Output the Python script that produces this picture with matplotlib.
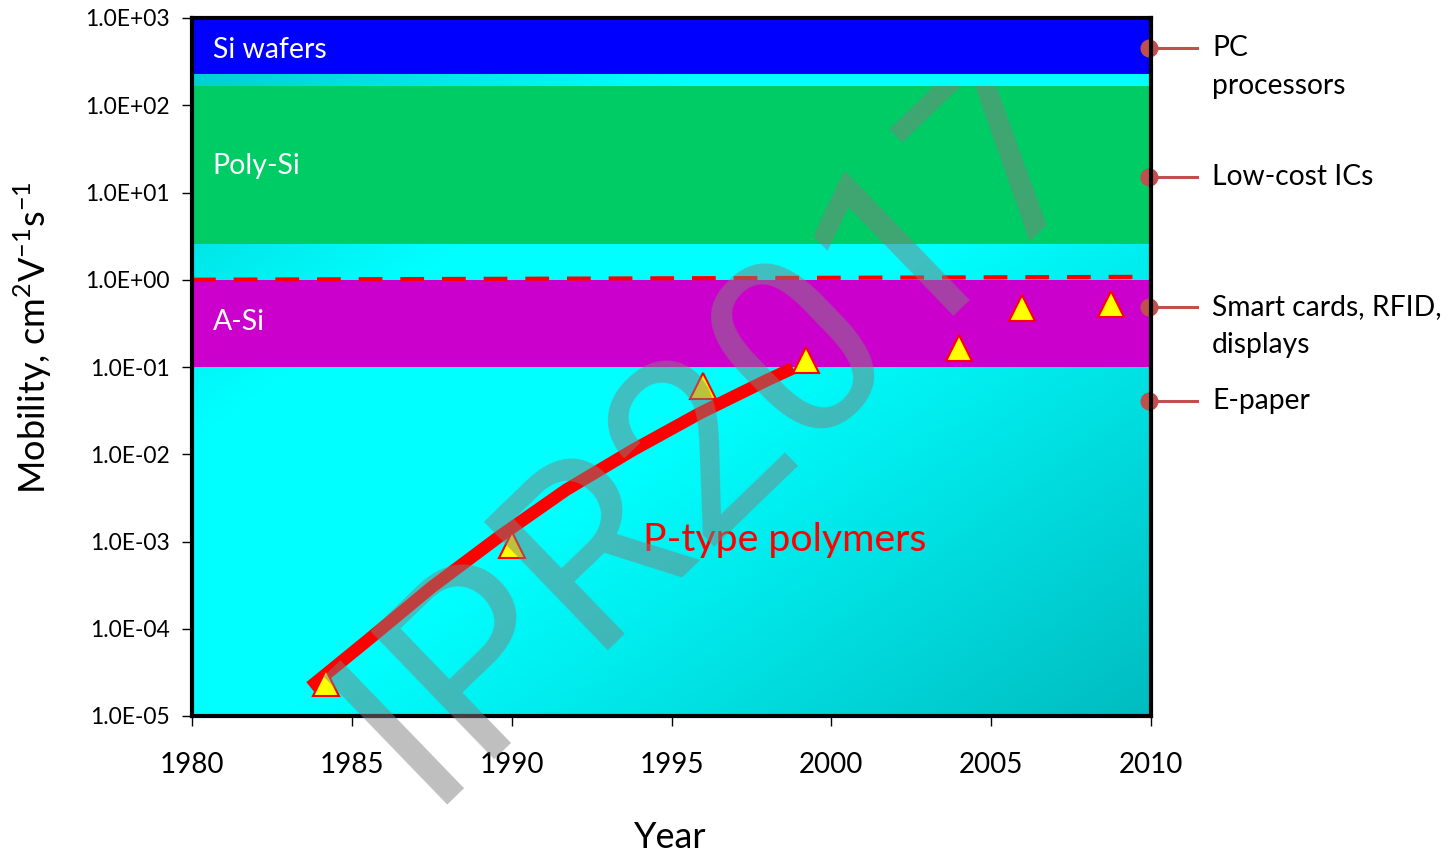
import numpy as np
import matplotlib
matplotlib.use('Agg')
import matplotlib.pyplot as plt
import matplotlib.transforms as mtransforms
from matplotlib.ticker import FixedLocator, FuncFormatter, NullLocator

plt.rcParams['font.family'] = ['Lato', 'DejaVu Sans']
plt.rcParams['mathtext.fontset'] = 'custom'
plt.rcParams['mathtext.rm'] = 'Lato'

# Data
poly_years = [1984.2, 1990.0, 1996.0, 1999.2, 2004.0, 2005.95, 2008.75]
poly_mobility = [2.4e-5, 9.1e-4, 0.061, 0.12, 0.165, 0.47, 0.53]

trend_years = [1983.7, 1985.5, 1987.5, 1989.6, 1991.7, 1993.8, 1995.9, 1998.0, 1998.8]
trend_mobility = [2.15e-5, 7.4e-5, 3.0e-4, 1.13e-3, 3.9e-3, 1.12e-2, 2.97e-2, 7.1e-2, 9.7e-2]

ref_years = [1980, 2010]
ref_mobility = [1.0, 1.08]

band_names = ['Si wafers', 'Poly-Si', 'A-Si']
band_low = [230, 2.6, 0.1]
band_high = [1000, 165, 1.0]
band_colors = ['#0000FF', '#00CC66', '#CC00CC']
band_label_y = [430, 20, 0.33]

app_labels = ['PC\nprocessors', 'Low-cost ICs', 'Smart cards, RFID,\ndisplays', 'E-paper']
app_mobility = [455, 15, 0.49, 0.041]

x_ticks = [1980, 1985, 1990, 1995, 2000, 2005, 2010]
y_ticks = [1e-5, 1e-4, 1e-3, 1e-2, 1e-1, 1e0, 1e1, 1e2, 1e3]

fig = plt.figure(figsize=(14.54, 8.57), dpi=100)
ax = fig.add_axes([192 / 1454, 1 - 716 / 857, 959 / 1454, 698 / 857])
ax.set_yscale('log')
ax.set_xlim(1980, 2010)
ax.set_ylim(1e-5, 1e3)

# cyan gradient background
u = np.linspace(0, 1, 300)
v = np.linspace(1, 0, 300)
U, V = np.meshgrid(u, v)
s = (U + (1 - V)) / 2
stops = [0.0, 0.3, 0.55, 1.0]
g_vals = [200, 255, 255, 188]
b_vals = [205, 255, 255, 192]
G = np.interp(s, stops, g_vals) / 255
B = np.interp(s, stops, b_vals) / 255
img = np.dstack([np.zeros_like(G), G, B])
ax.imshow(img, extent=[0, 1, 0, 1], transform=ax.transAxes, aspect='auto',
          zorder=0, interpolation='bilinear')

for name, lo, hi, c, ly in zip(band_names, band_low, band_high, band_colors, band_label_y):
    ax.axhspan(lo, hi, color=c, zorder=1, lw=0)
    ax.text(1980.65, ly, name, color='white', fontsize=20.5, va='center', ha='left', zorder=5)

ax.plot(ref_years, ref_mobility, color='red', lw=3, ls=(0, (5.7, 4.3)), zorder=3)
ax.plot(trend_years, trend_mobility, color='red', lw=9, solid_capstyle='butt',
        solid_joinstyle='round', zorder=3)
ax.plot(poly_years, poly_mobility, ls='none', marker='^', ms=19, mfc='yellow',
        mec='red', mew=1.5, zorder=4)
ax.text(1994.1, 1.05e-3, 'P-type polymers', color='red', fontsize=28.3, va='center', ha='left', zorder=5)

# applications on the right
trans = mtransforms.blended_transform_factory(ax.transAxes, ax.transData)
for lab, m in zip(app_labels, app_mobility):
    ax.plot([0.998, 1.048], [m, m], color='#C0504D', lw=2.2, transform=trans, clip_on=False, zorder=6)
    ax.plot([0.998], [m], color='#C0504D', marker='o', ms=12, transform=trans, clip_on=False, zorder=6)
    off = -13.7 if '\n' in lab else 0
    ax.annotate(lab, xy=(1.0636, m), xycoords=trans, xytext=(0, off), textcoords='offset points',
                va='center', ha='left', fontsize=20.3, linespacing=1.55, annotation_clip=False)

for sp in ax.spines.values():
    sp.set_linewidth(3)
    sp.set_color('black')
    sp.set_zorder(7)

ax.xaxis.set_major_locator(FixedLocator(x_ticks))
ax.yaxis.set_major_locator(FixedLocator(y_ticks))
ax.yaxis.set_minor_locator(NullLocator())
ax.yaxis.set_major_formatter(FuncFormatter(lambda val, pos: f'{val:.1E}'))
ax.tick_params(axis='x', direction='out', length=7, width=1, labelsize=20, pad=19)
ax.tick_params(axis='y', direction='out', length=7, width=1, labelsize=16.5, pad=9)

fig.text(33 / 1454, 1 - 338 / 857, r'Mobility, cm$^{\mathregular{2}}$V$^{\mathregular{-1}}$s$^{\mathregular{-1}}$',
         rotation=90, fontsize=26, ha='center', va='center')
fig.text(670 / 1454, 1 - 838 / 857, 'Year', fontsize=26, ha='center', va='center')

# watermark
wm = fig.text(425 / 1454, 1 - 805 / 857, 'IPR2017', fontsize=180, family='Roboto',
              color='gray', alpha=0.5, rotation=44, rotation_mode='anchor',
              ha='left', va='baseline', zorder=10)
wm.set_clip_box(mtransforms.Bbox.from_extents(0, 0, 1454, 857 - 86))
wm.set_clip_on(True)

fig.savefig('out.png', dpi=100)
